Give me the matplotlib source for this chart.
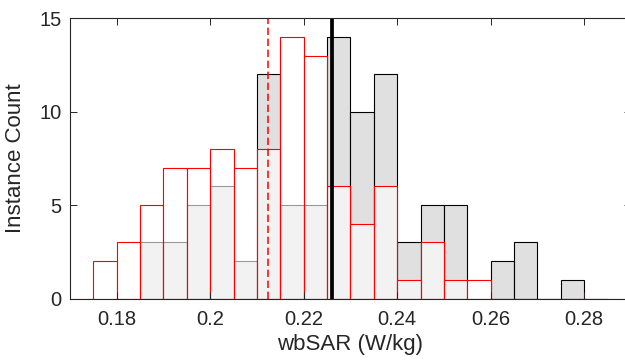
import numpy as np
import matplotlib
matplotlib.use('Agg')
import matplotlib.pyplot as plt

plt.rcParams['font.family'] = ['Liberation Sans', 'DejaVu Sans']

# histogram data (bin width 0.005)
bin_width = 0.005
gray_start = 0.180
gray_counts = [0, 3, 3, 5, 6, 2, 12, 5, 5, 14, 10, 12, 3, 5, 5, 0, 2, 3, 0, 1, 0]
red_start = 0.170
red_counts = [0, 2, 3, 5, 7, 7, 8, 7, 8, 14, 13, 6, 4, 6, 1, 3, 1, 1, 0, 0, 0, 0, 0, 0]

gray_mean = 0.2261
red_mean = 0.2124

xticks = [0.18, 0.2, 0.22, 0.24, 0.26, 0.28]
xtick_labels = ['0.18', '0.2', '0.22', '0.24', '0.26', '0.28']
yticks = [0, 5, 10, 15]

txt = '#262626'

fig = plt.figure(figsize=(6.25, 3.61), dpi=100)
# axes run a bit past the right edge, like the cropped original
ax = fig.add_axes([0.112, 0.173, 0.8976, 0.7765])

gray_edges = gray_start + bin_width * np.arange(len(gray_counts))
red_edges = red_start + bin_width * np.arange(len(red_counts))

ax.bar(gray_edges, gray_counts, width=bin_width, align='edge',
       facecolor=(0.8, 0.8, 0.8, 0.6), edgecolor='black', linewidth=0.8)
ax.bar(red_edges, red_counts, width=bin_width, align='edge',
       facecolor=(1, 1, 1, 0.6), edgecolor='red', linewidth=0.8)

ax.axvline(red_mean, color='red', linewidth=1.1, dashes=(4.8, 2.4))
ax.axvline(gray_mean, color='black', linewidth=2.7)

ax.set_xlim(0.17, 0.29)
ax.set_ylim(0, 15)
ax.set_xticks(xticks)
ax.set_xticklabels(xtick_labels)
ax.set_yticks(yticks)

ax.tick_params(direction='in', length=5, width=0.7, colors=txt,
               labelsize=14.5, top=True, right=True)
ax.tick_params(axis='x', pad=8)
ax.tick_params(axis='y', pad=6)
for s in ax.spines.values():
    s.set_color(txt)
    s.set_linewidth(0.8)

ax.set_xlabel('wbSAR (W/kg)', fontsize=16, color=txt, labelpad=4)
ax.set_ylabel('Instance Count', fontsize=16, color=txt, labelpad=10)

fig.savefig('out.png', dpi=100)
